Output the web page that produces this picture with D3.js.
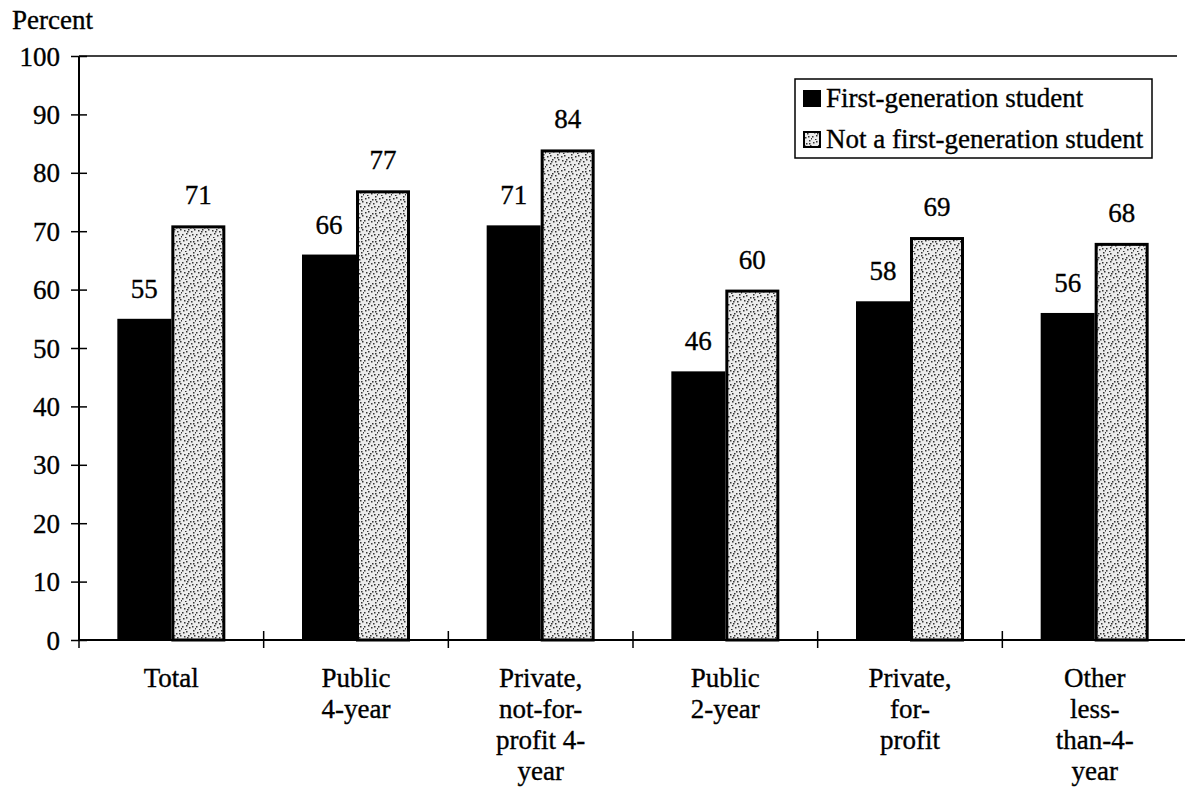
<!DOCTYPE html>
<html>
<head>
<meta charset="utf-8">
<script src="https://cdn.jsdelivr.net/npm/d3@7"></script>
<style>
  html, body { margin: 0; padding: 0; background: #fff; }
  svg { display: block; }
  svg text { font-family: "Liberation Serif", "Times New Roman", Times, serif; fill: #000; stroke: #000; stroke-width: 0.35px; }
</style>
</head>
<body>
<svg id="chart" width="1185" height="789"></svg>
<script>
const categories = [
  ["Total"],
  ["Public", "4-year"],
  ["Private,", "not-for-", "profit 4-", "year"],
  ["Public", "2-year"],
  ["Private,", "for-", "profit"],
  ["Other", "less-", "than-4-", "year"]
];
const seriesNames = ["First-generation student", "Not a first-generation student"];
const firstGen = [55, 66, 71, 46, 58, 56];
const notFirstGen = [71, 77, 84, 60, 69, 68];
const yTicks = [0, 10, 20, 30, 40, 50, 60, 70, 80, 90, 100];

(function () {
const svg = d3.select("#chart");
const W = 1185;
const mLeft = 79, mTop = 56, mBottom = 640, mRight = 1187;
const FS = 27;

const defs = svg.append("defs");
const pat = defs.append("pattern")
  .attr("id", "stipple").attr("patternUnits", "userSpaceOnUse")
  .attr("width", 14).attr("height", 14);
pat.append("rect").attr("width", 14).attr("height", 14).attr("fill", "#ececec");
const dots = [[1,2],[4,1],[8,3],[11,0],[2,6],[6,5],[9,7],[12,5],[0,10],[4,9],[7,11],[10,10],[13,12],[3,13],[5,7],[11,3]];
pat.selectAll("rect.d").data(dots).enter().append("rect")
  .attr("class", "d").attr("x", d => d[0]).attr("y", d => d[1])
  .attr("width", 1.5).attr("height", 1.5).attr("fill", "#333");

const x0 = d3.scaleBand().domain(d3.range(categories.length)).range([mLeft, mRight]).paddingInner(0).paddingOuter(0);
const x1 = d3.scaleBand().domain([0, 1]).range([0, x0.bandwidth()]).paddingInner(0).paddingOuter(0.71);
const y = d3.scaleLinear().domain([0, 100]).range([mBottom, mTop]);

svg.append("line").attr("x1", mLeft).attr("x2", 1177).attr("y1", y(100)).attr("y2", y(100))
  .attr("stroke", "#000").attr("stroke-width", 1.5);

const data = categories.map((c, i) => ({ i, vals: [firstGen[i], notFirstGen[i]] }));
const g = svg.append("g");
data.forEach(d => {
  d.vals.forEach((v, s) => {
    const bx = x0(d.i) + x1(s);
    const bw = x1.bandwidth();
    if (s === 0) {
      g.append("rect").attr("x", bx).attr("y", y(v)).attr("width", bw).attr("height", y(0) - y(v))
        .attr("fill", "#000");
    } else {
      g.append("rect").attr("x", bx + 1.5).attr("y", y(v) + 1.5).attr("width", bw - 3).attr("height", y(0) - y(v) - 1.5)
        .attr("fill", "url(#stipple)").attr("stroke", "#000").attr("stroke-width", 3);
    }
    g.append("text").attr("x", bx + bw / 2).attr("y", y(v) - 21)
      .attr("text-anchor", "middle").attr("font-size", FS).text(v);
  });
});

const yAxis = d3.axisLeft(y).tickValues(yTicks).tickSize(8).tickPadding(10);
const ya = svg.append("g").attr("transform", `translate(${mLeft},0)`).call(yAxis);
ya.attr("font-family", null);
ya.select(".domain").attr("stroke-width", 2).attr("d", `M0,${y(0)}V${y(100)}`);
ya.selectAll(".tick line").attr("x2", -8).attr("x1", 8).attr("stroke-width", 1.5);
ya.selectAll(".tick text").attr("font-size", FS).attr("x", -19).attr("dy", "0.34em");

const xa = svg.append("g").attr("transform", `translate(0,${mBottom})`);
xa.append("line").attr("x1", mLeft).attr("x2", W).attr("y1", 0).attr("y2", 0).attr("stroke", "#000").attr("stroke-width", 2);
xa.selectAll("line.t").data(d3.range(categories.length)).enter().append("line")
  .attr("class", "t").attr("x1", i => x0(i)).attr("x2", i => x0(i)).attr("y1", -9).attr("y2", 8)
  .attr("stroke", "#000").attr("stroke-width", 1.5);
categories.forEach((lines, i) => {
  const t = xa.append("text").attr("text-anchor", "middle").attr("font-size", FS)
    .attr("x", x0(i) + x0.bandwidth() / 2).attr("y", 47);
  lines.forEach((ln, k) => {
    t.append("tspan").attr("x", x0(i) + x0.bandwidth() / 2).attr("dy", k === 0 ? 0 : 31).text(ln);
  });
});

svg.append("text").attr("x", 12).attr("y", 29).attr("font-size", FS).text("Percent");

const lg = svg.append("g");
lg.append("rect").attr("x", 795).attr("y", 79).attr("width", 357).attr("height", 79)
  .attr("fill", "#fff").attr("stroke", "#000").attr("stroke-width", 1.5);
lg.append("rect").attr("x", 803).attr("y", 90).attr("width", 18).attr("height", 17).attr("fill", "#000");
lg.append("rect").attr("x", 804).attr("y", 132).attr("width", 16).attr("height", 15)
  .attr("fill", "url(#stipple)").attr("stroke", "#000").attr("stroke-width", 2);
lg.append("text").attr("x", 826).attr("y", 107).attr("font-size", FS).text(seriesNames[0]);
lg.append("text").attr("x", 826).attr("y", 148).attr("font-size", FS).text(seriesNames[1]);
})();
</script>
</body>
</html>
